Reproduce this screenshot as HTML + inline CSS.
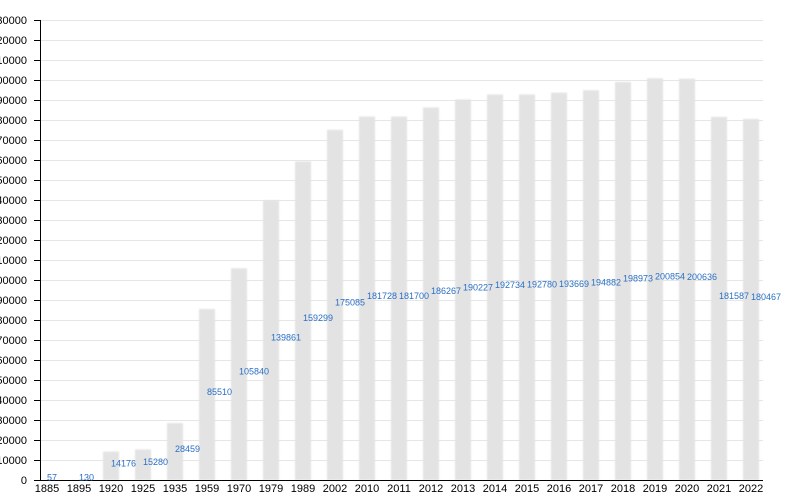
<!DOCTYPE html>
<html><head><meta charset="utf-8"><style>
html,body{margin:0;padding:0;background:#fff;}
svg{display:block;font-family:"Liberation Sans",Arial,sans-serif;}
</style></head><body>
<svg width="800" height="500" viewBox="0 0 800 500" xmlns="http://www.w3.org/2000/svg">
<defs><filter id="b" x="-20%" y="-5%" width="140%" height="110%"><feGaussianBlur stdDeviation="0.9"/></filter></defs>
<g stroke="#e6e6e6" stroke-width="1">
<line x1="41" x2="763" y1="460.5" y2="460.5"/><line x1="41" x2="763" y1="440.5" y2="440.5"/><line x1="41" x2="763" y1="420.5" y2="420.5"/><line x1="41" x2="763" y1="400.5" y2="400.5"/><line x1="41" x2="763" y1="380.5" y2="380.5"/><line x1="41" x2="763" y1="360.5" y2="360.5"/><line x1="41" x2="763" y1="340.5" y2="340.5"/><line x1="41" x2="763" y1="320.5" y2="320.5"/><line x1="41" x2="763" y1="300.5" y2="300.5"/><line x1="41" x2="763" y1="280.5" y2="280.5"/><line x1="41" x2="763" y1="260.5" y2="260.5"/><line x1="41" x2="763" y1="240.5" y2="240.5"/><line x1="41" x2="763" y1="220.5" y2="220.5"/><line x1="41" x2="763" y1="200.5" y2="200.5"/><line x1="41" x2="763" y1="180.5" y2="180.5"/><line x1="41" x2="763" y1="160.5" y2="160.5"/><line x1="41" x2="763" y1="140.5" y2="140.5"/><line x1="41" x2="763" y1="120.5" y2="120.5"/><line x1="41" x2="763" y1="100.5" y2="100.5"/><line x1="41" x2="763" y1="80.5" y2="80.5"/><line x1="41" x2="763" y1="60.5" y2="60.5"/><line x1="41" x2="763" y1="40.5" y2="40.5"/><line x1="41" x2="763" y1="20.5" y2="20.5"/>
</g>
<g fill="#e3e3e3" filter="url(#b)">
<rect x="39" y="479.89" width="16" height="0.11"/>
<rect x="71" y="479.74" width="16" height="0.26"/>
<rect x="103" y="451.65" width="16" height="28.35"/>
<rect x="135" y="449.44" width="16" height="30.56"/>
<rect x="167" y="423.08" width="16" height="56.92"/>
<rect x="199" y="308.98" width="16" height="171.02"/>
<rect x="231" y="268.32" width="16" height="211.68"/>
<rect x="263" y="200.28" width="16" height="279.72"/>
<rect x="295" y="161.40" width="16" height="318.60"/>
<rect x="327" y="129.83" width="16" height="350.17"/>
<rect x="359" y="116.54" width="16" height="363.46"/>
<rect x="391" y="116.60" width="16" height="363.40"/>
<rect x="423" y="107.47" width="16" height="372.53"/>
<rect x="455" y="99.55" width="16" height="380.45"/>
<rect x="487" y="94.53" width="16" height="385.47"/>
<rect x="519" y="94.44" width="16" height="385.56"/>
<rect x="551" y="92.66" width="16" height="387.34"/>
<rect x="583" y="90.24" width="16" height="389.76"/>
<rect x="615" y="82.05" width="16" height="397.95"/>
<rect x="647" y="78.29" width="16" height="401.71"/>
<rect x="679" y="78.73" width="16" height="401.27"/>
<rect x="711" y="116.83" width="16" height="363.17"/>
<rect x="743" y="119.07" width="16" height="360.93"/>
</g>
<g stroke="#000" stroke-width="1">
<line x1="34" x2="41" y1="460.5" y2="460.5"/><line x1="34" x2="41" y1="440.5" y2="440.5"/><line x1="34" x2="41" y1="420.5" y2="420.5"/><line x1="34" x2="41" y1="400.5" y2="400.5"/><line x1="34" x2="41" y1="380.5" y2="380.5"/><line x1="34" x2="41" y1="360.5" y2="360.5"/><line x1="34" x2="41" y1="340.5" y2="340.5"/><line x1="34" x2="41" y1="320.5" y2="320.5"/><line x1="34" x2="41" y1="300.5" y2="300.5"/><line x1="34" x2="41" y1="280.5" y2="280.5"/><line x1="34" x2="41" y1="260.5" y2="260.5"/><line x1="34" x2="41" y1="240.5" y2="240.5"/><line x1="34" x2="41" y1="220.5" y2="220.5"/><line x1="34" x2="41" y1="200.5" y2="200.5"/><line x1="34" x2="41" y1="180.5" y2="180.5"/><line x1="34" x2="41" y1="160.5" y2="160.5"/><line x1="34" x2="41" y1="140.5" y2="140.5"/><line x1="34" x2="41" y1="120.5" y2="120.5"/><line x1="34" x2="41" y1="100.5" y2="100.5"/><line x1="34" x2="41" y1="80.5" y2="80.5"/><line x1="34" x2="41" y1="60.5" y2="60.5"/><line x1="34" x2="41" y1="40.5" y2="40.5"/><line x1="34" x2="41" y1="20.5" y2="20.5"/>
<line x1="40.5" y1="20" x2="40.5" y2="480"/>
<line x1="34" y1="480.5" x2="763" y2="480.5"/>
</g>
<g font-size="11" fill="#000" text-anchor="end">
<text x="27" y="484">0</text><text x="27" y="464">10000</text><text x="27" y="444">20000</text><text x="27" y="424">30000</text><text x="27" y="404">40000</text><text x="27" y="384">50000</text><text x="27" y="364">60000</text><text x="27" y="344">70000</text><text x="27" y="324">80000</text><text x="27" y="304">90000</text><text x="27" y="284">100000</text><text x="27" y="264">110000</text><text x="27" y="244">120000</text><text x="27" y="224">130000</text><text x="27" y="204">140000</text><text x="27" y="184">150000</text><text x="27" y="164">160000</text><text x="27" y="144">170000</text><text x="27" y="124">180000</text><text x="27" y="104">190000</text><text x="27" y="84">200000</text><text x="27" y="64">210000</text><text x="27" y="44">220000</text><text x="27" y="24">230000</text>
</g>
<g font-size="11" fill="#000" text-anchor="middle">
<text x="47" y="492">1885</text><text x="79" y="492">1895</text><text x="111" y="492">1920</text><text x="143" y="492">1925</text><text x="175" y="492">1935</text><text x="207" y="492">1959</text><text x="239" y="492">1970</text><text x="271" y="492">1979</text><text x="303" y="492">1989</text><text x="335" y="492">2002</text><text x="367" y="492">2010</text><text x="399" y="492">2011</text><text x="431" y="492">2012</text><text x="463" y="492">2013</text><text x="495" y="492">2014</text><text x="527" y="492">2015</text><text x="559" y="492">2016</text><text x="591" y="492">2017</text><text x="623" y="492">2018</text><text x="655" y="492">2019</text><text x="687" y="492">2020</text><text x="719" y="492">2021</text><text x="751" y="492">2022</text>
</g>
<g font-size="9" fill="#2a6fc4">
<text x="47" y="480.4">57</text>
<text x="79" y="480.4">130</text>
<text x="111" y="466.3">14176</text>
<text x="143" y="465.2">15280</text>
<text x="175" y="452.0">28459</text>
<text x="207" y="395.0">85510</text>
<text x="239" y="374.7">105840</text>
<text x="271" y="340.6">139861</text>
<text x="303" y="321.2">159299</text>
<text x="335" y="305.4">175085</text>
<text x="367" y="298.8">181728</text>
<text x="399" y="298.8">181700</text>
<text x="431" y="294.2">186267</text>
<text x="463" y="290.3">190227</text>
<text x="495" y="287.8">192734</text>
<text x="527" y="287.7">192780</text>
<text x="559" y="286.8">193669</text>
<text x="591" y="285.6">194882</text>
<text x="623" y="281.5">198973</text>
<text x="655" y="279.6">200854</text>
<text x="687" y="279.9">200636</text>
<text x="719" y="298.9">181587</text>
<text x="751" y="300.0">180467</text>
</g>
</svg>
</body></html>
